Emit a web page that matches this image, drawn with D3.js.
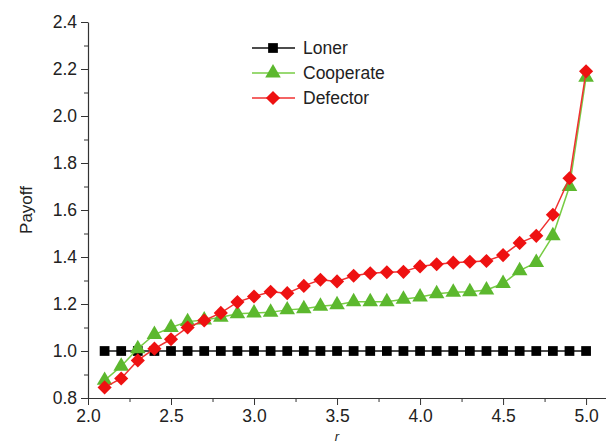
<!DOCTYPE html>
<html lang="en">
<head>
<meta charset="UTF-8">
<title>Payoff vs r</title>
<style>
  body { margin: 0; background: #fff; }
  text { font-family: "Liberation Sans", Arial, sans-serif; fill: #222; }
</style>
</head>
<body>
<svg class="chart"></svg>
<script src="https://cdnjs.cloudflare.com/ajax/libs/d3/7.8.5/d3.min.js"></script>
<script>
// data
const rValues = [2.1, 2.2, 2.3, 2.4, 2.5, 2.6, 2.7, 2.8, 2.9, 3.0,
                 3.1, 3.2, 3.3, 3.4, 3.5, 3.6, 3.7, 3.8, 3.9, 4.0,
                 4.1, 4.2, 4.3, 4.4, 4.5, 4.6, 4.7, 4.8, 4.9, 5.0];
const loner = [1, 1, 1, 1, 1, 1, 1, 1, 1, 1,
               1, 1, 1, 1, 1, 1, 1, 1, 1, 1,
               1, 1, 1, 1, 1, 1, 1, 1, 1, 1];
const cooperate = [0.875, 0.935, 1.01, 1.07, 1.10, 1.125, 1.132, 1.144, 1.158, 1.162,
                   1.165, 1.175, 1.18, 1.19, 1.197, 1.21, 1.21, 1.21, 1.22, 1.23,
                   1.244, 1.25, 1.252, 1.26, 1.287, 1.342, 1.377, 1.49, 1.70, 2.165];
const defector = [0.845, 0.883, 0.96, 1.01, 1.05, 1.10, 1.13, 1.162, 1.208, 1.232,
                  1.252, 1.246, 1.277, 1.303, 1.296, 1.32, 1.331, 1.335, 1.337, 1.36,
                  1.369, 1.376, 1.38, 1.383, 1.408, 1.46, 1.49, 1.58, 1.735, 2.19];
const xTicks = [2.0, 2.5, 3.0, 3.5, 4.0, 4.5, 5.0];
const yTicks = [0.8, 1.0, 1.2, 1.4, 1.6, 1.8, 2.0, 2.2, 2.4];
const seriesNames = ['Loner', 'Cooperate', 'Defector'];

const width = 606, height = 445;
const margin = {top: 22, left: 88, right: 0, bottom: 47};

const svg = d3.select('.chart').attr('width', width).attr('height', height);

const x = d3.scaleLinear().domain([2.0, 5.12]).range([margin.left, width - margin.right]);
const y = d3.scaleLinear().domain([0.8, 2.4]).range([height - margin.bottom, margin.top]);

// minor ticks first
svg.append('g')
    .attr('transform', `translate(0, ${y(0.8)})`)
    .call(d3.axisBottom(x).tickValues(d3.range(2.25, 5.1, 0.5)).tickSize(4).tickFormat(''))
    .call(g => g.select('.domain').remove())
    .selectAll('line').attr('stroke', '#333');

svg.append('g')
    .attr('transform', `translate(${x(2.0)}, 0)`)
    .call(d3.axisLeft(y).tickValues(d3.range(0.9, 2.4, 0.2)).tickSize(4).tickFormat(''))
    .call(g => g.select('.domain').remove())
    .selectAll('line').attr('stroke', '#333');

// major axes
const xAxis = svg.append('g')
    .attr('transform', `translate(0, ${y(0.8)})`)
    .call(d3.axisBottom(x).tickValues(xTicks).tickSize(7).tickSizeOuter(0).tickFormat(d3.format('.1f')));
xAxis.select('.domain').attr('stroke', '#333').attr('stroke-width', 1.2);
xAxis.selectAll('line').attr('stroke', '#333');
xAxis.selectAll('text').attr('font-size', 17.5).attr('dy', '0.8em');

const yAxis = svg.append('g')
    .attr('transform', `translate(${x(2.0)}, 0)`)
    .call(d3.axisLeft(y).tickValues(yTicks).tickSize(7).tickSizeOuter(0).tickFormat(d3.format('.1f')));
yAxis.select('.domain').attr('stroke', '#333').attr('stroke-width', 1.2);
yAxis.selectAll('line').attr('stroke', '#333');
yAxis.selectAll('text').attr('font-size', 17.5).attr('x', -11);

// axis titles
svg.append('text')
    .attr('transform', `translate(32, ${y(1.6)}) rotate(-90)`)
    .attr('text-anchor', 'middle')
    .attr('font-size', 17)
    .text('Payoff');

svg.append('text')
    .attr('x', x(3.5))
    .attr('y', 441)
    .attr('text-anchor', 'middle')
    .attr('font-size', 13)
    .attr('font-style', 'italic')
    .text('r');

const diamond = {draw(ctx, size) { const r = Math.sqrt(size / 2); ctx.moveTo(0, -r); ctx.lineTo(r, 0); ctx.lineTo(0, r); ctx.lineTo(-r, 0); ctx.closePath(); }};

const series = [
  {name: seriesNames[0], values: loner, line: '#111', fill: '#000', shape: d3.symbolSquare, size: 95},
  {name: seriesNames[1], values: cooperate, line: '#77cc44', fill: '#5cb82e', shape: d3.symbolTriangle, size: 105},
  {name: seriesNames[2], values: defector, line: '#f03030', fill: '#ee1111', shape: diamond, size: 100}
];

const line = d3.line().x(d => x(d[0])).y(d => y(d[1]));

series.forEach(s => {
  const pts = rValues.map((r, i) => [r, s.values[i]]);
  svg.append('path')
      .datum(pts)
      .attr('fill', 'none')
      .attr('stroke', s.line)
      .attr('stroke-width', 1.5)
      .attr('d', line);
  svg.append('g').selectAll('path')
      .data(pts)
      .enter().append('path')
      .attr('transform', d => `translate(${x(d[0])}, ${y(d[1])})`)
      .attr('d', d3.symbol().type(s.shape).size(s.size))
      .attr('fill', s.fill);
});

// legend
const legend = svg.append('g').attr('transform', 'translate(252, 48)');
series.forEach((s, i) => {
  const row = legend.append('g').attr('transform', `translate(0, ${i * 25})`);
  row.append('line').attr('x1', 0).attr('x2', 43).attr('stroke', s.line).attr('stroke-width', 1.5);
  row.append('path')
      .attr('transform', 'translate(21, 0)')
      .attr('d', d3.symbol().type(s.shape).size(s.size))
      .attr('fill', s.fill);
  row.append('text')
      .attr('x', 51)
      .attr('dy', '0.35em')
      .attr('font-size', 17.5)
      .text(s.name);
});
</script>
</body>
</html>
